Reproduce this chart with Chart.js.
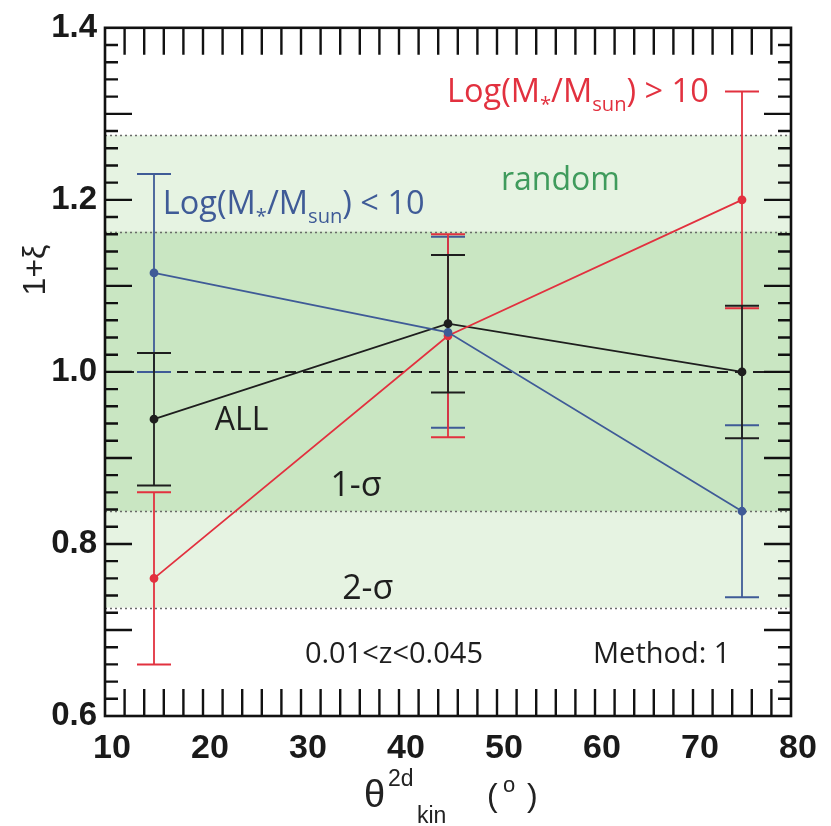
<!DOCTYPE html>
<html>
<head>
<meta charset="utf-8">
<title>1+xi vs theta kin</title>
<script src="https://cdn.jsdelivr.net/npm/chart.js@4.4.1/dist/chart.umd.min.js"></script>
<style>
  html, body { margin: 0; padding: 0; background: #fff; }
  #wrap { width: 831px; height: 826px; position: relative; }
</style>
</head>
<body>
<div id="wrap"><canvas id="xiChart"></canvas></div>
<script>
// bins in theta_kin^2d (degrees)
const thetaBins = [15, 45, 75];

// 1+xi per sample, with symmetric errors
const allXi = [0.945, 1.056, 1.0];
const allErr = [0.077, 0.080, 0.077];
const lowMassXi = [1.115, 1.046, 0.838];
const lowMassErr = [0.115, 0.111, 0.100];
const highMassXi = [0.760, 1.042, 1.200];
const highMassErr = [0.100, 0.118, 0.126];

// random expectation bands
const sigma1Band = [0.838, 1.163];
const sigma2Band = [0.726, 1.275];
const randomLevel = 1.0;

// axis ticks
const xTicks = [10, 20, 30, 40, 50, 60, 70, 80];
const yTicks = [0.6, 0.8, 1.0, 1.2, 1.4];
const yTickLabels = ["0.6", "0.8", "1.0", "1.2", "1.4"];

const BLUE = "#3f5b97";
const RED = "#e2313f";
const BLACK = "#1e1e1e";
const GREEN_TXT = "#3f9b5c";
const TXT_FONT = "'Open Sans', 'DejaVu Sans', sans-serif";

function pts(ys) {
    return thetaBins.map((x, i) => ({ x: x, y: ys[i] }));
}

// draw text with sub/superscript pieces
function drawRich(ctx, parts, x, y, size, color) {
    let cx = x;
    ctx.fillStyle = color;
    ctx.textBaseline = "alphabetic";
    ctx.textAlign = "left";
    parts.forEach(([txt, mode]) => {
        let fs = size, dy = 0;
        if (mode === "sub") { fs = size * 0.62; dy = size * 0.28; }
        if (mode === "sup") { fs = size * 0.62; dy = -size * 0.38; }
        ctx.font = fs + "px " + TXT_FONT;
        ctx.fillText(txt, cx, y + dy);
        cx += ctx.measureText(txt).width;
    });
}

const bandsPlugin = {
    id: "bands",
    beforeDatasetsDraw(chart) {
        const { ctx, chartArea: a, scales: { x, y } } = chart;
        ctx.save();
        // 2-sigma band
        ctx.fillStyle = "#e6f3e2";
        ctx.fillRect(a.left, y.getPixelForValue(sigma2Band[1]), a.width,
            y.getPixelForValue(sigma2Band[0]) - y.getPixelForValue(sigma2Band[1]));
        // 1-sigma band
        ctx.fillStyle = "#c9e6c2";
        ctx.fillRect(a.left, y.getPixelForValue(sigma1Band[1]), a.width,
            y.getPixelForValue(sigma1Band[0]) - y.getPixelForValue(sigma1Band[1]));

        // dotted edges
        ctx.strokeStyle = "#6a6a6a";
        ctx.lineWidth = 1.5;
        ctx.setLineDash([2, 3]);
        [sigma2Band[0], sigma2Band[1], sigma1Band[0], sigma1Band[1]].forEach(v => {
            const py = Math.round(y.getPixelForValue(v)) + 0.5;
            ctx.beginPath();
            ctx.moveTo(a.left, py);
            ctx.lineTo(a.right, py);
            ctx.stroke();
        });

        // dashed random level
        ctx.strokeStyle = BLACK;
        ctx.lineWidth = 2;
        ctx.setLineDash([11, 7]);
        const py1 = y.getPixelForValue(randomLevel);
        ctx.beginPath();
        ctx.moveTo(a.left, py1);
        ctx.lineTo(a.right, py1);
        ctx.stroke();
        ctx.setLineDash([]);

        // error bars
        const series = [
            [lowMassXi, lowMassErr, BLUE],
            [highMassXi, highMassErr, RED],
            [allXi, allErr, BLACK]
        ];
        series.forEach(([vals, errs, col]) => {
            ctx.strokeStyle = col;
            vals.forEach((v, i) => {
                const px = x.getPixelForValue(thetaBins[i]);
                const top = y.getPixelForValue(v + errs[i]);
                const bot = y.getPixelForValue(v - errs[i]);
                ctx.lineWidth = 1.8;
                ctx.beginPath();
                ctx.moveTo(px, top);
                ctx.lineTo(px, bot);
                ctx.stroke();
                ctx.lineWidth = 2;
                ctx.beginPath();
                ctx.moveTo(px - 17, top); ctx.lineTo(px + 17, top);
                ctx.moveTo(px - 17, bot); ctx.lineTo(px + 17, bot);
                ctx.stroke();
            });
        });
        ctx.restore();
    },
    afterDraw(chart) {
        const { ctx, chartArea: a, scales: { x, y } } = chart;
        ctx.save();
        ctx.strokeStyle = "#111";

        // x ticks, top and bottom, every 2 degrees
        ctx.lineWidth = 2.4;
        for (let v = 12; v < 80; v += 2) {
            const px = x.getPixelForValue(v);
            ctx.beginPath();
            ctx.moveTo(px, a.bottom); ctx.lineTo(px, a.bottom - 27);
            ctx.moveTo(px, a.top); ctx.lineTo(px, a.top + 27);
            ctx.stroke();
        }
        // y ticks, left and right
        for (let k = 1; k < 40; k++) {
            const v = 0.6 + k * 0.02;
            const py = y.getPixelForValue(v);
            const len = (k % 5 === 0) ? 27 : 13;
            ctx.beginPath();
            ctx.moveTo(a.left, py); ctx.lineTo(a.left + len, py);
            ctx.moveTo(a.right, py); ctx.lineTo(a.right - len, py);
            ctx.stroke();
        }
        // frame
        ctx.lineWidth = 2.6;
        ctx.strokeRect(a.left, a.top, a.width, a.height);

        // annotations
        const px = v => x.getPixelForValue(v);
        const py = v => y.getPixelForValue(v);
        drawRich(ctx, [["Log(M", "n"], ["*", "sub"], ["/M", "n"], ["sun", "sub"], [") < 10", "n"]],
            px(15.9), py(1.184), 32.5, BLUE);
        drawRich(ctx, [["Log(M", "n"], ["*", "sub"], ["/M", "n"], ["sun", "sub"], [") > 10", "n"]],
            px(44.9), py(1.314), 32.5, RED);

        ctx.textBaseline = "alphabetic";
        ctx.font = "500 32px " + TXT_FONT;
        ctx.fillStyle = GREEN_TXT;
        ctx.textAlign = "left";
        ctx.fillText("random", px(50.4), py(1.211));

        ctx.fillStyle = BLACK;
        ctx.font = "32px " + TXT_FONT;
        ctx.fillText("ALL", px(21.2), py(0.932));
        ctx.font = "34px " + TXT_FONT;
        ctx.fillText("1-\u03c3", px(33.0), py(0.856));
        ctx.fillText("2-\u03c3", px(34.2), py(0.736));
        ctx.font = "29px " + TXT_FONT;
        ctx.fillText("0.01<z<0.045", px(30.4), py(0.662));
        ctx.fillText("Method: 1", px(59.8), py(0.662));

        // axis titles
        ctx.fillStyle = "#222";
        ctx.save();
        ctx.translate(36, 270);
        ctx.rotate(-Math.PI / 2);
        ctx.textAlign = "center";
        ctx.textBaseline = "middle";
        ctx.font = "32px 'Liberation Sans', Arial, sans-serif";
        ctx.fillText("1+\u03be", 0, 0);
        ctx.restore();

        ctx.textAlign = "left";
        ctx.textBaseline = "alphabetic";
        ctx.font = "38px 'Liberation Sans', Arial, sans-serif";
        ctx.fillText("\u03b8", 364, 807);
        ctx.font = "23px 'Liberation Sans', Arial, sans-serif";
        ctx.fillText("2d", 388, 786);
        ctx.fillText("kin", 417, 823);
        ctx.font = "32px 'Liberation Sans', Arial, sans-serif";
        ctx.fillText("(", 487, 806);
        ctx.fillText(")", 527, 806);
        ctx.font = "22px 'Liberation Sans', Arial, sans-serif";
        ctx.fillText("o", 503, 792);
        ctx.restore();
    }
};

const lineDs = (label, ys, col) => ({
    label: label,
    data: pts(ys),
    borderColor: col,
    backgroundColor: col,
    borderWidth: 1.8,
    pointRadius: 3.5,
    pointHoverRadius: 3.5,
    tension: 0
});

new Chart(document.getElementById("xiChart"), {
    type: "line",
    data: {
        datasets: [
            lineDs("Log(M*/Msun) < 10", lowMassXi, BLUE),
            lineDs("Log(M*/Msun) > 10", highMassXi, RED),
            lineDs("ALL", allXi, BLACK)
        ]
    },
    options: {
        responsive: true,
        maintainAspectRatio: false,
        animation: false,
        events: [],
        layout: { padding: { top: 23, right: 40, left: 0, bottom: 0 } },
        plugins: {
            legend: { display: false },
            tooltip: { enabled: false }
        },
        scales: {
            x: {
                type: "linear",
                min: 10,
                max: 80,
                grid: { display: false, drawTicks: false },
                border: { display: false },
                afterFit: s => { s.height = 110; },
                afterBuildTicks: s => { s.ticks = xTicks.map(v => ({ value: v })); },
                ticks: {
                    padding: 12,
                    labelOffset: 7,
                    color: "#1a1a1a",
                    font: { family: "'Liberation Sans', Arial, sans-serif", size: 34, weight: "bold" }
                }
            },
            y: {
                min: 0.6,
                max: 1.4,
                grid: { display: false, drawTicks: false },
                border: { display: false },
                afterFit: s => { s.width = 105; },
                afterBuildTicks: s => { s.ticks = yTicks.map(v => ({ value: v })); },
                ticks: {
                    padding: 8,
                    color: "#1a1a1a",
                    callback: (v) => yTickLabels[yTicks.indexOf(v)] ?? "",
                    font: { family: "'Liberation Sans', Arial, sans-serif", size: 33, weight: "bold" }
                }
            }
        }
    },
    plugins: [bandsPlugin]
});
</script>
</body>
</html>
